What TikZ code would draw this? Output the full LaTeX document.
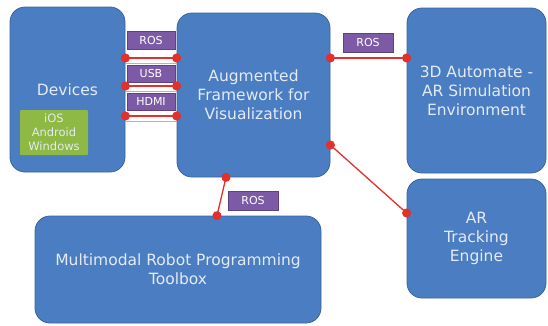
\documentclass[tikz,border=0pt]{standalone}
\usepackage{fontspec}
\setmainfont{DejaVu Sans}
\usetikzlibrary{arrows.meta,positioning,calc}

\definecolor{boxblue}{HTML}{4A7DC1}
\definecolor{boxedge}{HTML}{3A659C}
\definecolor{boxtext}{HTML}{E4EAF3}
\definecolor{tagpurple}{HTML}{7C5AA6}
\definecolor{tagedge}{HTML}{5E4384}
\definecolor{osgreen}{HTML}{8DB944}
\definecolor{linkred}{HTML}{E3302A}
\definecolor{glowred}{HTML}{F0A080}

\begin{document}
\begin{tikzpicture}[
    x=1pt, y=-1pt,
    font=\fontsize{15.5}{19}\selectfont,
    box/.style={draw=boxedge, line width=0.8pt, fill=boxblue, rounded corners=15pt, align=center, text=boxtext, inner sep=0pt},
    tag/.style={draw=tagedge, line width=0.6pt, fill=tagpurple, text=white, inner sep=0pt, font=\fontsize{11}{13}\selectfont},
    osbox/.style={fill=osgreen, text=boxtext, align=center, inner sep=0pt, rounded corners=1pt, font=\fontsize{11.5}{14}\selectfont},
    link/.style={linkred, line width=1.3pt, {Circle[length=9pt]}-{Circle[length=9pt]}, shorten <=-4.5pt, shorten >=-4.5pt},
    glow/.style={glowred, line width=0.7pt, transform canvas={yshift=-5pt}}
  ]
    \useasboundingbox (0,0) rectangle (548,325);

    % blocks
    \node[box, minimum width=115pt, minimum height=165pt] (dev) at (67.5,89.5) {};
    \node[text=boxtext] (devtxt) at (67.5,89.5) {Devices};
    \node[osbox, minimum width=68pt, minimum height=45pt] (os) at (54,132.5) {iOS\\Android\\Windows};
    \node[box, minimum width=153pt, minimum height=164pt] (fw) at (253.5,95) {Augmented\\Framework for\\Visualization};
    \node[box, minimum width=139pt, minimum height=165pt] (sim) at (476.5,90.5) {3D Automate -\\AR Simulation\\Environment};
    \node[box, minimum width=139pt, minimum height=119pt] (track) at (476.5,238.5) {AR\\Tracking\\Engine};
    \node[box, minimum width=286pt, minimum height=107pt] (tool) at (178,269.5) {Multimodal Robot Programming\\Toolbox};

    % interface tags
    \node[tag, minimum width=48pt, minimum height=18pt] (rosA) at (151,40) {ROS};
    \node[tag, minimum width=48pt, minimum height=17pt] (usb) at (151,73.5) {USB};
    \node[tag, minimum width=48pt, minimum height=17pt] (hdmi) at (151,101.5) {HDMI};
    \node[tag, minimum width=50pt, minimum height=19pt] (rosB) at (368,42.5) {ROS};
    \node[tag, minimum width=50pt, minimum height=19pt] (rosC) at (253,200.5) {ROS};

    % ports
    \coordinate (pA) at ([yshift=31.5pt]dev.east);
    \coordinate (pU) at ([yshift=3.5pt]dev.east);
    \coordinate (pH) at ([yshift=-26.5pt]dev.east);
    \coordinate (pS) at ([yshift=37pt]fw.east);
    \coordinate (pT) at ([yshift=-50pt]fw.east);
    \coordinate (pB) at ([xshift=-27.5pt]fw.south);

    % connections
    \foreach \p in {pA,pU,pH}{
      \draw[glow] (\p) -- (\p -| fw.west);
      \draw[link] (\p) -- (\p -| fw.west);
    }
    \draw[link] (pS) -- (pS -| sim.west);
    \draw[link] (pT) -- ([yshift=25.5pt]track.west);
    \draw[link] (pB) -- ([xshift=39pt]tool.north);
\end{tikzpicture}
\end{document}
